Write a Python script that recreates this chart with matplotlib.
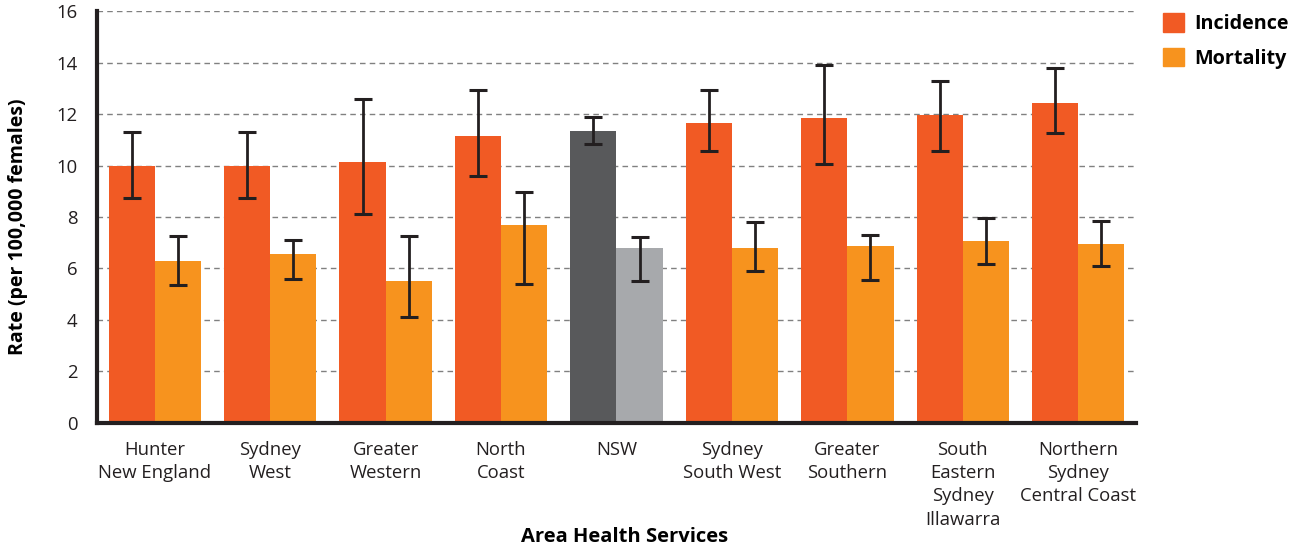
import numpy as np
import matplotlib
matplotlib.use('Agg')
import matplotlib.pyplot as plt
import matplotlib.patches as mpatches

plt.rcParams['font.family'] = ['Open Sans', 'DejaVu Sans']

# ── 데이터 ─────────────────────────────────────────────
areas = ['Hunter\nNew England', 'Sydney\nWest', 'Greater\nWestern', 'North\nCoast', 'NSW',
         'Sydney\nSouth West', 'Greater\nSouthern', 'South\nEastern\nSydney\nIllawarra',
         'Northern\nSydney\nCentral Coast']
incidence = [10.0, 10.0, 10.15, 11.15, 11.35, 11.65, 11.85, 11.95, 12.45]
inc_low = [8.75, 8.75, 8.1, 9.6, 10.85, 10.55, 10.05, 10.55, 11.25]
inc_high = [11.3, 11.3, 12.6, 12.95, 11.9, 12.95, 13.9, 13.3, 13.8]
mortality = [6.3, 6.55, 5.5, 7.7, 6.8, 6.8, 6.85, 7.05, 6.95]
mort_low = [5.35, 5.6, 4.1, 5.4, 5.5, 5.9, 5.55, 6.15, 6.1]
mort_high = [7.25, 7.1, 7.25, 8.95, 7.2, 7.8, 7.3, 7.95, 7.85]

C_INC = '#F15A24'
C_MORT = '#F7931E'
C_NSW_INC = '#58595B'
C_NSW_MORT = '#A7A9AC'
DARK = '#231F20'

x = np.arange(len(areas))
w = 0.40
inc_colors = [C_NSW_INC if a == 'NSW' else C_INC for a in areas]
mort_colors = [C_NSW_MORT if a == 'NSW' else C_MORT for a in areas]

fig = plt.figure(figsize=(12.97, 5.47), dpi=100)
ax = fig.add_axes([0.0748, 0.2276, 0.801, 0.7517])

inc_err = [np.array(incidence) - np.array(inc_low), np.array(inc_high) - np.array(incidence)]
mort_err = [np.array(mortality) - np.array(mort_low), np.array(mort_high) - np.array(mortality)]

ax.bar(x - w/2, incidence, w, color=inc_colors, zorder=2)
ax.bar(x + w/2, mortality, w, color=mort_colors, zorder=2)
ax.errorbar(x - w/2, incidence, yerr=inc_err, fmt='none', ecolor=DARK,
            elinewidth=2, capsize=6.5, capthick=2.2, zorder=3)
ax.errorbar(x + w/2, mortality, yerr=mort_err, fmt='none', ecolor=DARK,
            elinewidth=2, capsize=6.5, capthick=2.2, zorder=3)

ax.set_xlim(-0.5, len(areas) - 0.5)
ax.set_ylim(0, 16)
ax.set_yticks(range(0, 17, 2))
ax.yaxis.grid(True, color='#808080', linestyle=(0, (4, 3)), linewidth=1, zorder=0)
ax.set_axisbelow(True)

ax.set_xticks(x)
ax.set_xticklabels(areas, fontsize=13.3, color=DARK, linespacing=1.38)
ax.tick_params(axis='x', length=0, pad=13)
ax.tick_params(axis='y', length=0, pad=14, labelsize=13.3, labelcolor=DARK)

for s in ['top', 'right']:
    ax.spines[s].set_visible(False)
for s in ['left', 'bottom']:
    ax.spines[s].set_color(DARK)
    ax.spines[s].set_linewidth(3)

ax.set_ylabel('Rate (per 100,000 females)', fontsize=14, fontweight='bold')
ax.yaxis.set_label_coords(-0.066, 0.475)
ax.set_xlabel('Area Health Services', fontsize=14.5, fontweight='bold')
ax.xaxis.set_label_coords(0.508, -0.255)

handles = [mpatches.Patch(color=C_INC, label='Incidence'),
           mpatches.Patch(color=C_MORT, label='Mortality')]
fig.legend(handles=handles, loc='upper left', bbox_to_anchor=(0.883, 1.008),
           frameon=False, handlelength=1.05, handleheight=1.05, labelspacing=0.7,
           handletextpad=0.55, prop={'size': 14.2, 'weight': 'bold'})

fig.savefig('out.png', dpi=100)
